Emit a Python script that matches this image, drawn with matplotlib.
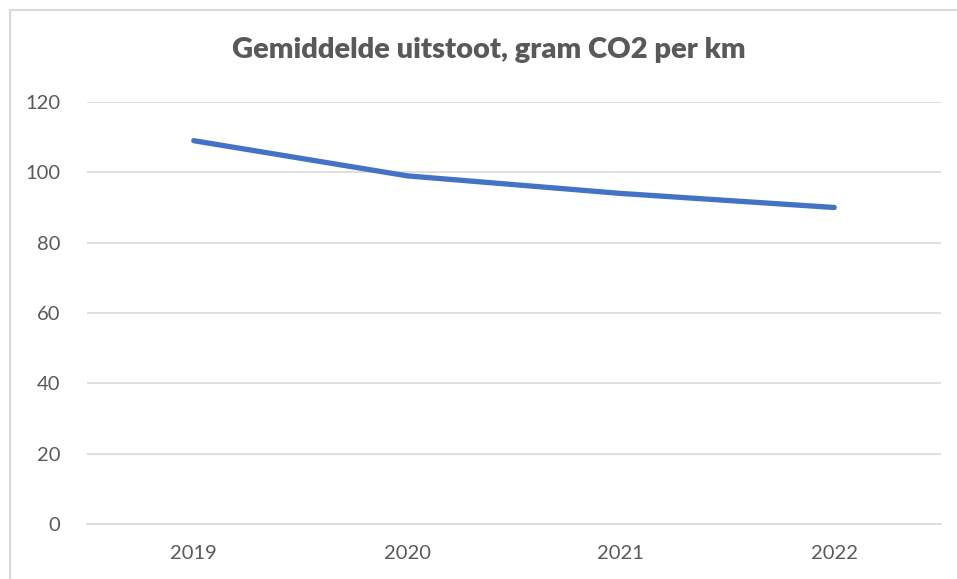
import matplotlib.pyplot as plt
from matplotlib.patches import Rectangle

# data
years = ['2019', '2020', '2021', '2022']
uitstoot = [109, 99, 94, 90]

plt.rcParams['font.family'] = ['Lato', 'DejaVu Sans']

W, H = 957, 579
fig = plt.figure(figsize=(W / 100, H / 100), dpi=100)
fig.patch.set_facecolor('white')

# chart border (only left and top visible in the crop)
fig.patches.append(Rectangle((10 / W, -0.1), 1.2, 1 - 10 / H + 0.1,
                             transform=fig.transFigure, fill=False,
                             edgecolor='#d9d9d9', linewidth=1.5))

ax = fig.add_axes([87 / W, 1 - 524 / H, (941 - 87) / W, (524 - 102) / H])
x = range(len(years))
ax.plot(x, uitstoot, color='#4472c4', linewidth=3.8,
        solid_capstyle='round', solid_joinstyle='round', zorder=3)

ax.set_xlim(-0.5, len(years) - 0.5)
ax.set_ylim(0, 120)
ax.set_yticks(range(0, 121, 20))
ax.set_xticks(list(x))
ax.set_xticklabels(years)
ax.grid(axis='y', color='#d9d9d9', linewidth=1.2)
ax.set_axisbelow(True)
for s in ['top', 'right', 'left']:
    ax.spines[s].set_visible(False)
ax.spines['bottom'].set_color('#d9d9d9')
ax.spines['bottom'].set_linewidth(1.2)
ax.tick_params(length=0, labelsize=14.5, colors='#595959')
ax.tick_params(axis='y', pad=19)
ax.tick_params(axis='x', pad=15)

fig.text(489 / W, 1 - 50 / H, 'Gemiddelde uitstoot, gram CO2 per km',
         ha='center', va='center', fontsize=21, fontweight='heavy',
         color='#595959')

plt.savefig('out.png', dpi=100)
